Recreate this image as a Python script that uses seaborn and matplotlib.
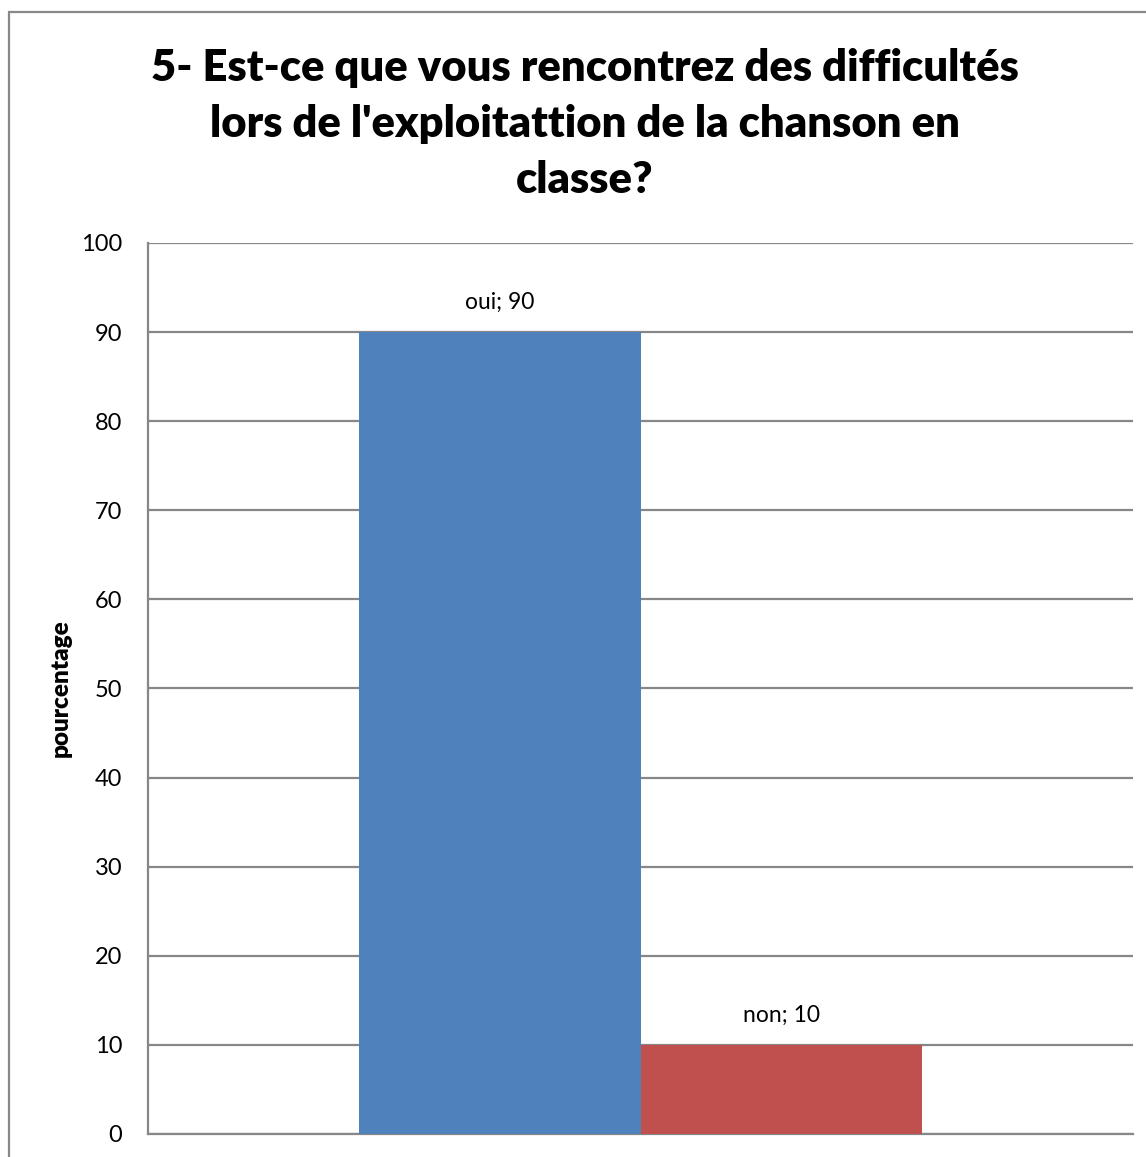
import matplotlib
matplotlib.use("Agg")
import matplotlib.pyplot as plt
import seaborn as sns
import pandas as pd
from matplotlib.patches import Rectangle

# data
category = ["q5"]
series = ["oui", "non"]
values = [90, 10]
yticks = [0, 10, 20, 30, 40, 50, 60, 70, 80, 90, 100]
colors = ["#4F81BD", "#C0504D"]

df = pd.DataFrame({"cat": category * len(series), "serie": series, "val": values})

sns.set_style("white")
plt.rcParams["font.family"] = ["Lato", "DejaVu Sans"]
plt.rcParams["text.color"] = "black"
plt.rcParams["axes.labelcolor"] = "black"
plt.rcParams["ytick.color"] = "black"

W, H = 1146, 1157
fig = plt.figure(figsize=(W / 100, H / 100), dpi=100)
ax = fig.add_axes([148 / W, 1 - 1134 / H, (1133 - 148) / W, (1134 - 243) / H])

sns.barplot(data=df, x="cat", y="val", hue="serie", palette=colors,
            width=563 / 985, ax=ax, legend=False, saturation=1, linewidth=0, zorder=3)

ax.set_xlim(-0.5, 0.5)
ax.set_ylim(0, 100)
ax.set_yticks(yticks)
ax.set_yticklabels([str(t) for t in yticks], fontsize=17)
ax.tick_params(axis="y", length=0, pad=18.5, colors="black")
ax.set_xticks([])
ax.set_xlabel("")
ax.set_ylabel("pourcentage", fontsize=17.5, fontweight="heavy", labelpad=7)
ax.grid(axis="y", color="#878787", linewidth=1.6, zorder=0)
ax.set_axisbelow(True)
for s in ["top", "right"]:
    ax.spines[s].set_visible(False)
for s in ["left", "bottom"]:
    ax.spines[s].set_color("#878787")
    ax.spines[s].set_linewidth(1.6)

for cont, name in zip(ax.containers, series):
    labels = [f"{name}; {int(b.get_height())}" for b in cont]
    ax.bar_label(cont, labels=labels, padding=14, fontsize=16.5, color="black")

fig.text(585 / W, 1 - 124 / H,
         "5- Est-ce que vous rencontrez des difficultés\nlors de l'exploitattion de la chanson en\nclasse?",
         ha="center", va="center", fontsize=31.3, fontweight="heavy", linespacing=1.47,
         color="black")

fig.patches.append(Rectangle((9 / W, -0.1), 1.5, 1.1 - 12 / H, transform=fig.transFigure,
                             fill=False, edgecolor="#888888", linewidth=1.6))

fig.savefig("out.png", dpi=100)
